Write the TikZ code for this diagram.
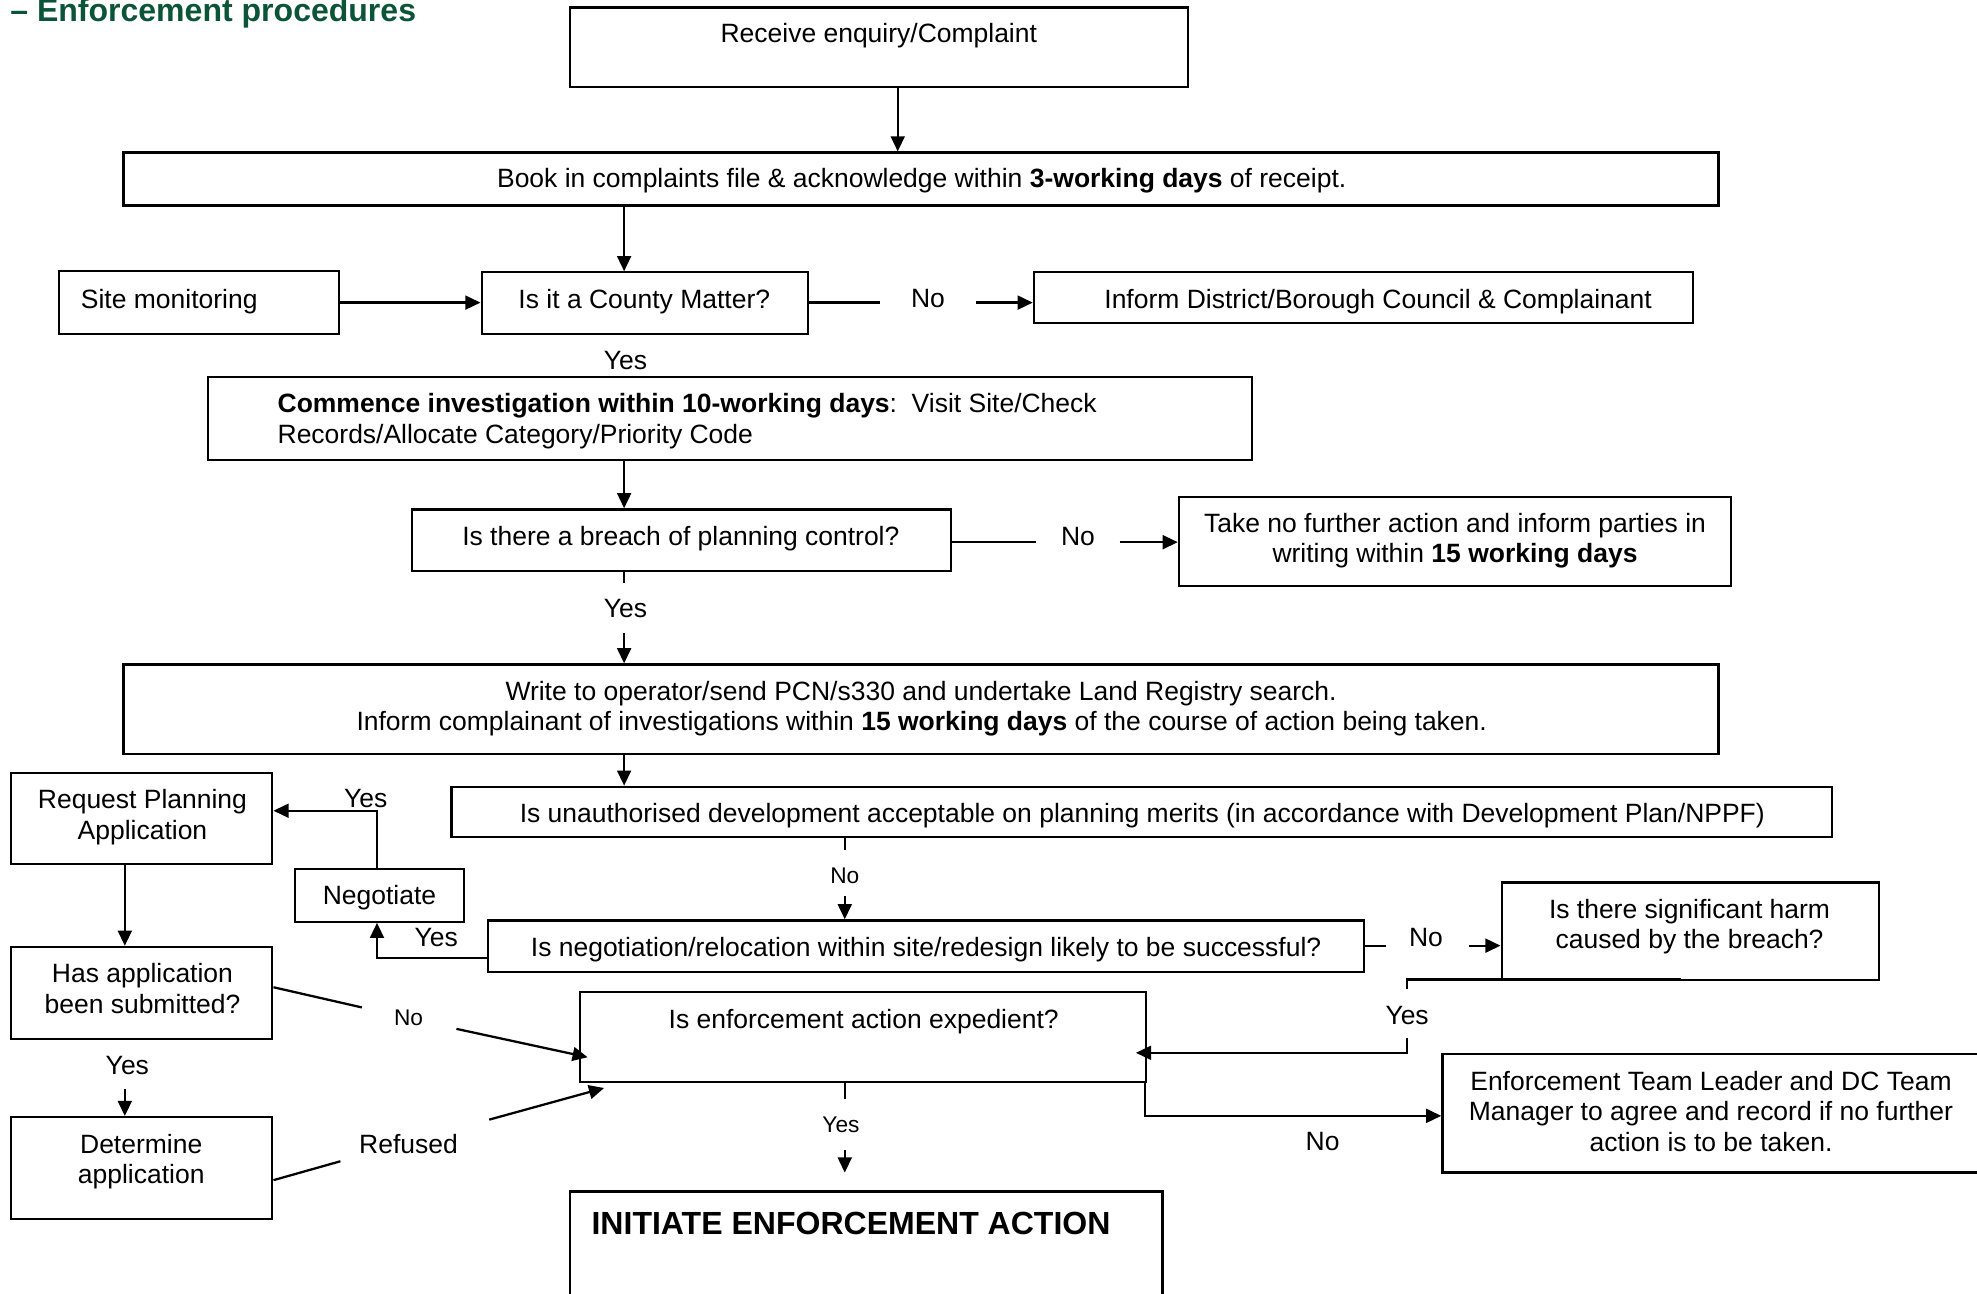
\documentclass[tikz,border=0pt]{standalone}
\usepackage{fontspec}
\setmainfont{Liberation Sans}
\usetikzlibrary{arrows.meta}
\definecolor{titlegreen}{RGB}{12,84,56}
\begin{document}
\begin{tikzpicture}[x=1pt,y=-1pt,
  box/.style={draw, line width=1.8pt, inner sep=0pt, rectangle},
  txt/.style={font=\fontsize{21}{24}\selectfont, inner sep=0pt, anchor=base},
  txtl/.style={font=\fontsize{21}{24}\selectfont, inner sep=0pt, anchor=base west},
  lbl/.style={font=\fontsize{21}{24}\selectfont, inner sep=0pt, anchor=base},
  slbl/.style={font=\fontsize{18}{21}\selectfont, inner sep=0pt, anchor=base},
  conn/.style={line width=1.8pt},
  arr/.style={line width=1.8pt, -{Triangle[length=12pt,width=11pt]}}]
\useasboundingbox (0,0) rectangle (1568,1026);

% title
\node[anchor=base west, inner sep=0pt, font=\fontsize{25.4}{29}\selectfont\bfseries, text=titlegreen] (title) at (8,17) {– Enforcement procedures};

% boxes
\node[box, minimum width=490pt, minimum height=63pt] (rec) at (697,37.5) {};
\node[box, minimum width=1265pt, minimum height=42pt] (book) at (730.5,142) {};
\node[box, minimum width=222pt, minimum height=50pt] (site) at (158,240) {};
\node[box, minimum width=259pt, minimum height=49pt] (county) at (511.5,240.5) {};
\node[box, minimum width=523pt, minimum height=40pt] (inform) at (1081.5,236) {};
\node[box, minimum width=828pt, minimum height=66pt] (comm) at (579,332) {};
\node[box, minimum width=427pt, minimum height=49pt] (breach) at (540.5,428.5) {};
\node[box, minimum width=438pt, minimum height=71pt] (takeno) at (1154,429.5) {};
\node[box, minimum width=1265pt, minimum height=71pt] (write) at (730.5,562.5) {};
\node[box, minimum width=1095pt, minimum height=40pt] (unauth) at (905.5,644) {};
\node[box, minimum width=207pt, minimum height=72pt] (reqpa) at (112.5,649) {};
\node[box, minimum width=134pt, minimum height=42pt] (negot) at (301,710) {};
\node[box, minimum width=695pt, minimum height=41pt] (neg2) at (734.5,750.5) {};
\node[box, minimum width=299pt, minimum height=77pt] (harm) at (1340.5,738.5) {};
\node[box, minimum width=207pt, minimum height=73pt] (hasapp) at (112.5,787.5) {};
\node[box, minimum width=449pt, minimum height=71pt] (exped) at (684.5,822.5) {};
\node[box, minimum width=432pt, minimum height=94pt] (etl) at (1360,883) {};
\node[box, minimum width=207pt, minimum height=81pt] (det) at (112.5,926.5) {};
\node[box, minimum width=470pt, minimum height=90pt] (init) at (687,990) {};

% box texts
\node[txt] (recT) at (697,33.5) {Receive enquiry/Complaint};
\node[txt] (bookT) at (731,148.5) {Book in complaints file \& acknowledge within \textbf{3-working days} of receipt.};
\node[txtl] (siteT) at (64,244.5) {Site monitoring};
\node[txt] (countyT) at (511,244.5) {Is it a County Matter?};
\node[txt] (informT) at (1093,244.5) {Inform District/Borough Council \& Complainant};
\node[txtl] (commT1) at (220,327.5) {\textbf{Commence investigation within 10-working days}:\ \ Visit Site/Check};
\node[txtl] (commT2) at (220,351.5) {Records/Allocate Category/Priority Code};
\node[txt] (breachT) at (540,432.5) {Is there a breach of planning control?};
\node[txt] (takeT1) at (1154,422.5) {Take no further action and inform parties in};
\node[txt] (takeT2) at (1154,446.5) {writing within \textbf{15 working days}};
\node[txt] (writeT1) at (730.5,555.5) {Write to operator/send PCN/s330 and undertake Land Registry search.};
\node[txt] (writeT2) at (731,579.5) {Inform complainant of investigations within \textbf{15 working days} of the course of action being taken.};
\node[txt] (unauthT) at (906,652.5) {Is unauthorised development acceptable on planning merits (in accordance with Development Plan/NPPF)};
\node[txt] (reqT1) at (113,641.5) {Request Planning};
\node[txt] (reqT2) at (113,665.5) {Application};
\node[txt] (negT) at (301,717.5) {Negotiate};
\node[txt] (neg2T) at (734.5,758.5) {Is negotiation/relocation within site/redesign likely to be successful?};
\node[txt] (harmT1) at (1340,728.5) {Is there significant harm};
\node[txt] (harmT2) at (1340,752.5) {caused by the breach?};
\node[txt] (hasT1) at (113,779.5) {Has application};
\node[txt] (hasT2) at (113,803.5) {been submitted?};
\node[txt] (detT1) at (112,914.5) {Determine};
\node[txt] (detT2) at (112,938.5) {application};
\node[txt] (expT) at (685,815.5) {Is enforcement action expedient?};
\node[txt] (etlT1) at (1357,864.5) {Enforcement Team Leader and DC Team};
\node[txt] (etlT2) at (1357,888.5) {Manager to agree and record if no further};
\node[txt] (etlT3) at (1357,913) {action is to be taken.};
\node[anchor=base west, inner sep=0pt, font=\fontsize{25.4}{29}\selectfont\bfseries] (initT) at (469,979) {INITIATE ENFORCEMENT ACTION};

% labels
\node[lbl] (no1) at (736,243.5) {No};
\node[lbl] (yes1) at (496,293) {Yes};
\node[lbl] (no2) at (855,432.5) {No};
\node[lbl] (yes2) at (496,489.5) {Yes};
\node[slbl] (no3) at (670,700.5) {No};
\node[lbl] (yes3) at (346,750.5) {Yes};
\node[lbl] (yes4) at (290,640.5) {Yes};
\node[lbl] (no4) at (1131,750.5) {No};
\node[slbl] (no5) at (324,813.5) {No};
\node[lbl] (yes5) at (101,852.5) {Yes};
\node[lbl] (refused) at (324,914.5) {Refused};
\node[slbl] (yes6) at (667,898.5) {Yes};
\node[lbl] (no6) at (1049,912.5) {No};
\node[lbl] (yes7) at (1116,812.5) {Yes};

% helper coordinates
\coordinate (xA) at (495,0);
\coordinate (xB) at (712,0);
\coordinate (xC) at (670,0);
\coordinate (xD) at (299,0);
\coordinate (xE) at (99,0);
\coordinate (yA) at (0,240);
\coordinate (yB) at (0,430);
\coordinate (yC) at (0,760);
\coordinate (yD) at (0,643);
\coordinate (yE) at (0,750);
\coordinate (yF) at (0,835);
\coordinate (yG) at (0,885);
\coordinate (n1s) at (698,240);
\coordinate (n1e) at (774,240);
\coordinate (n2s) at (822,430);
\coordinate (n2e) at (888,430);
\coordinate (y2s) at (495,462);
\coordinate (y2e) at (495,502);
\coordinate (n3s) at (670,674);
\coordinate (n3e) at (670,711);
\coordinate (n4s) at (1099,750);
\coordinate (n4e) at (1165,750);
\coordinate (hasR) at ([yshift=4.5pt]hasapp.east);
\coordinate (n5s) at (287,799);
\coordinate (n5e) at (362,816);
\coordinate (expL) at ([xshift=7pt,yshift=-16pt]exped.west);
\coordinate (y5e) at (99,864);
\coordinate (detR) at ([yshift=-9.5pt]det.east);
\coordinate (r1s) at (270,921);
\coordinate (r1e) at (388,888);
\coordinate (expBL) at ([xshift=20pt,yshift=-4pt]exped.south west);
\coordinate (y6s) at (670,872);
\coordinate (y6e) at (670,912);
\coordinate (y6t) at (670,930);
\coordinate (expBR) at ([xshift=-2pt]exped.south east);
\coordinate (harmB) at ([xshift=-7.5pt,yshift=1pt]harm.south);
\coordinate (y7s) at (1116,784);
\coordinate (y7e) at (1116,823);
\coordinate (expR) at ([xshift=-9pt]exped.east);

% connectors
\draw[arr] (rec.south -| xB) -- (book.north -| xB);
\draw[arr] (book.south -| xA) -- (county.north -| xA);
\draw[arr] (site.east |- yA) -- (county.west |- yA);
\draw[conn] (county.east |- yA) -- (n1s);
\draw[arr] (n1e) -- (inform.west |- yA);
\draw[arr] (comm.south -| xA) -- (breach.north -| xA);
\draw[conn] (breach.east |- yB) -- (n2s);
\draw[arr] (n2e) -- (takeno.west |- yB);
\draw[conn] (breach.south -| xA) -- (y2s);
\draw[arr] (y2e) -- (write.north -| xA);
\draw[arr] (write.south -| xA) -- (unauth.north -| xA);
\draw[conn] (unauth.south -| xC) -- (n3s);
\draw[arr] (n3e) -- (neg2.north -| xC);
\draw[arr] (neg2.west |- yC) -| (negot.south -| xD);
\draw[arr] (negot.north -| xD) |- (reqpa.east |- yD);
\draw[arr] (reqpa.south -| xE) -- (hasapp.north -| xE);
\draw[conn] (neg2.east |- yE) -- (n4s);
\draw[arr] (n4e) -- (harm.west |- yE);
\draw[conn] (hasR) -- (n5s);
\draw[arr] (n5e) -- (expL);
\draw[arr] (y5e) -- (det.north -| xE);
\draw[conn] (detR) -- (r1s);
\draw[arr] (r1e) -- (expBL);
\draw[conn] (exped.south -| xC) -- (y6s);
\draw[arr] (y6e) -- (y6t);
\draw[arr] (expBR) |- (etl.west |- yG);
\draw[conn] (harmB) -| (y7s);
\draw[arr] (y7e) |- (expR |- yF);
\end{tikzpicture}
\end{document}
